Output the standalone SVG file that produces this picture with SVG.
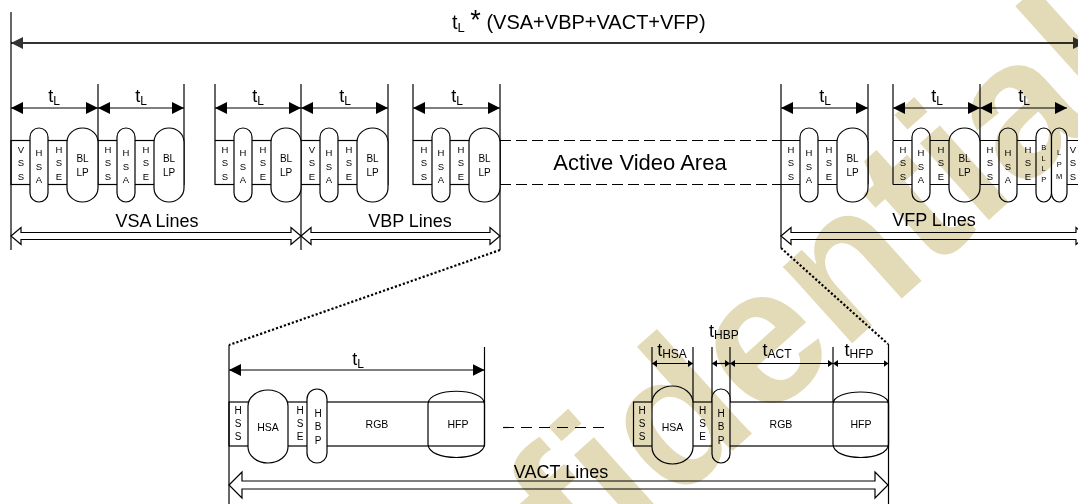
<svg xmlns="http://www.w3.org/2000/svg" width="1078" height="504" viewBox="0 0 1078 504">
<defs>
<style>
.ln{stroke:#000;stroke-width:1.2;fill:none}
.bx{stroke:#000;stroke-width:1.2;fill:none}
.pl{stroke:#000;stroke-width:1.2;fill:#fff}
.dash{stroke:#000;stroke-width:1.2;fill:none;stroke-dasharray:11,5}
.dot{stroke:#000;stroke-width:2.2;fill:none;stroke-dasharray:2.2,2}
.hol{stroke:#000;stroke-width:1.2;fill:#fff}
text{font-family:"Liberation Sans",Arial,sans-serif;fill:#000}
.c{font-size:9.5px;text-anchor:middle}
.c10{font-size:10px;text-anchor:middle}
.w{font-size:10.5px;text-anchor:middle}
.c7{font-size:7.5px;text-anchor:middle}
.tl{font-size:18px;text-anchor:middle}
.lab{font-size:18px;text-anchor:middle}
.wm{font-family:"Liberation Sans",Arial,sans-serif;font-weight:bold;font-size:195px;fill:#E3DAB8;text-anchor:end;mix-blend-mode:multiply}
</style>
<marker id="a" viewBox="0 0 12 12" markerWidth="12" markerHeight="12" refX="12" refY="6" markerUnits="userSpaceOnUse" orient="auto-start-reverse"><path d="M0,0 L12,6 L0,12 Z" fill="#000"/></marker>
<marker id="s" viewBox="0 0 5 7" markerWidth="5" markerHeight="7" refX="5" refY="3.5" markerUnits="userSpaceOnUse" orient="auto-start-reverse"><path d="M0,0 L5,3.5 L0,7 Z" fill="#000"/></marker>
<marker id="ag" viewBox="0 0 12 12" markerWidth="12" markerHeight="12" refX="12" refY="6" markerUnits="userSpaceOnUse" orient="auto-start-reverse"><path d="M0,0 L12,6 L0,12 Z" fill="#333"/></marker>
</defs>
<rect x="0" y="0" width="1078" height="504" fill="#fff"/>

<g id="title">
<text x="452" y="29" style="font-size:20px"><tspan>t</tspan><tspan style="font-size:13px" dy="3">L</tspan><tspan dy="-3"> </tspan><tspan style="font-size:27px">*</tspan><tspan> (VSA+VBP+VACT+VFP)</tspan></text>
</g>

<g id="connectors">
<line x1="11" y1="43" x2="1085" y2="43" stroke="#333" stroke-width="2" marker-start="url(#ag)" marker-end="url(#ag)"/>
<line class="ln" x1="11" y1="12" x2="11" y2="250"/>
<line class="ln" x1="301" y1="84" x2="301" y2="250"/>
<line class="ln" x1="500" y1="84" x2="500" y2="250"/>
<line class="ln" x1="781" y1="84" x2="781" y2="248"/>
<line class="ln" x1="98" y1="84" x2="98" y2="185"/>
<line class="ln" x1="184" y1="84" x2="184" y2="140"/>
<line class="ln" x1="215" y1="84" x2="215" y2="140"/>
<line class="ln" x1="388" y1="84" x2="388" y2="140"/>
<line class="ln" x1="413" y1="84" x2="413" y2="140"/>
<line class="ln" x1="868" y1="84" x2="868" y2="140"/>
<line class="ln" x1="893" y1="84" x2="893" y2="140"/>
<line class="ln" x1="980" y1="84" x2="980" y2="185"/>
<line class="ln" x1="11" y1="108" x2="98" y2="108" marker-start="url(#a)" marker-end="url(#a)"/>
<line class="ln" x1="98" y1="108" x2="184" y2="108" marker-start="url(#a)" marker-end="url(#a)"/>
<line class="ln" x1="215" y1="108" x2="301" y2="108" marker-start="url(#a)" marker-end="url(#a)"/>
<line class="ln" x1="301" y1="108" x2="388" y2="108" marker-start="url(#a)" marker-end="url(#a)"/>
<line class="ln" x1="413" y1="108" x2="500" y2="108" marker-start="url(#a)" marker-end="url(#a)"/>
<line class="ln" x1="781" y1="108" x2="868" y2="108" marker-start="url(#a)" marker-end="url(#a)"/>
<line class="ln" x1="893" y1="108" x2="980" y2="108" marker-start="url(#a)" marker-end="url(#a)"/>
<line class="ln" x1="980" y1="108" x2="1067" y2="108" marker-start="url(#a)" marker-end="url(#a)"/>
<line class="dash" x1="500" y1="140.5" x2="781" y2="140.5"/>
<line class="dash" x1="500" y1="184.5" x2="781" y2="184.5"/>
<path class="hol" d="M11,236 L21,227.5 L21,232.5 L291,232.5 L291,227.5 L301,236 L291,244.5 L291,239.5 L21,239.5 L21,244.5 Z"/>
<path class="hol" d="M301,236 L311,227.5 L311,232.5 L490,232.5 L490,227.5 L500,236 L490,244.5 L490,239.5 L311,239.5 L311,244.5 Z"/>
<path class="hol" d="M781,236 L791,227.5 L791,232.5 L1076,232.5 L1076,227.5 L1086,236 L1076,244.5 L1076,239.5 L791,239.5 L791,244.5 Z"/>
<path class="hol" d="M229,485 L242,472 L242,481 L875,481 L875,472 L888,485 L875,498 L875,489 L242,489 L242,498 Z"/>
<line class="dot" x1="500" y1="250" x2="229" y2="345"/>
<line class="dot" x1="781" y1="248" x2="888" y2="344"/>
<line class="ln" x1="229" y1="345" x2="229" y2="504"/>
<line class="ln" x1="484.5" y1="347" x2="484.5" y2="402"/>
<line class="ln" x1="888.5" y1="344" x2="888.5" y2="504"/>
<line class="ln" x1="652" y1="347" x2="652" y2="402"/>
<line class="ln" x1="693" y1="347" x2="693" y2="402"/>
<line class="ln" x1="712" y1="347" x2="712" y2="402"/>
<line class="ln" x1="730" y1="347" x2="730" y2="402"/>
<line class="ln" x1="833" y1="347" x2="833" y2="402"/>
<line class="ln" x1="229" y1="370" x2="484.5" y2="370" marker-start="url(#a)" marker-end="url(#a)"/>
<line class="ln" x1="652" y1="363.5" x2="693" y2="363.5" marker-start="url(#s)" marker-end="url(#s)"/>
<line class="ln" x1="712" y1="363.5" x2="730" y2="363.5" marker-start="url(#s)" marker-end="url(#s)"/>
<line class="ln" x1="730" y1="363.5" x2="833" y2="363.5" marker-start="url(#s)" marker-end="url(#s)"/>
<line class="ln" x1="833" y1="363.5" x2="888.5" y2="363.5" marker-start="url(#s)" marker-end="url(#s)"/>
<line class="ln" x1="503" y1="427.5" x2="608" y2="427.5" stroke-dasharray="11,7"/>
</g>

<g id="labels">
<text class="tl" x="54" y="102">t<tspan style="font-size:12px" dy="2.5">L</tspan></text>
<text class="tl" x="141" y="102">t<tspan style="font-size:12px" dy="2.5">L</tspan></text>
<text class="tl" x="258" y="102">t<tspan style="font-size:12px" dy="2.5">L</tspan></text>
<text class="tl" x="345" y="102">t<tspan style="font-size:12px" dy="2.5">L</tspan></text>
<text class="tl" x="457" y="102">t<tspan style="font-size:12px" dy="2.5">L</tspan></text>
<text class="tl" x="825" y="102">t<tspan style="font-size:12px" dy="2.5">L</tspan></text>
<text class="tl" x="937" y="102">t<tspan style="font-size:12px" dy="2.5">L</tspan></text>
<text class="tl" x="1024" y="102">t<tspan style="font-size:12px" dy="2.5">L</tspan></text>
<text class="tl" x="358" y="365">t<tspan style="font-size:12px" dy="2.5">L</tspan></text>
<text class="tl" x="672" y="356">t<tspan style="font-size:12px" dy="1.5">HSA</tspan></text>
<text x="709" y="337" style="font-size:18px">t<tspan style="font-size:12px" dy="1.5">HBP</tspan></text>
<text class="tl" x="777" y="356">t<tspan style="font-size:12px" dy="1.5">ACT</tspan></text>
<text class="tl" x="859" y="356">t<tspan style="font-size:12px" dy="1.5">HFP</tspan></text>
<text class="lab" x="157" y="227">VSA Lines</text>
<text class="lab" x="410" y="227">VBP Lines</text>
<text class="lab" x="934" y="226">VFP LInes</text>
<text class="lab" x="561" y="478">VACT Lines</text>
<text x="640" y="169.5" style="font-size:22px;text-anchor:middle">Active Video Area</text>
</g>

<g id="vsa-lines">
<rect class="bx" x="11" y="140.5" width="173" height="44"/>
<rect class="pl" x="30" y="128" width="18" height="74" rx="9" ry="9"/>
<rect class="pl" x="67" y="128" width="31" height="74" rx="15.5" ry="14"/>
<rect class="pl" x="117" y="128" width="18" height="74" rx="9" ry="9"/>
<rect class="pl" x="154" y="128" width="30" height="74" rx="15" ry="14"/>
<text class="c" x="21" y="152.5">V<tspan x="21" y="166">S</tspan><tspan x="21" y="179.5">S</tspan></text>
<text class="c" x="39" y="156">H<tspan x="39" y="169.5">S</tspan><tspan x="39" y="183">A</tspan></text>
<text class="c" x="59" y="152.5">H<tspan x="59" y="166">S</tspan><tspan x="59" y="179.5">E</tspan></text>
<text class="c10" x="82.5" y="161.5">BL<tspan x="82.5" y="175.5">LP</tspan></text>
<text class="c" x="108" y="152.5">H<tspan x="108" y="166">S</tspan><tspan x="108" y="179.5">S</tspan></text>
<text class="c" x="126" y="156">H<tspan x="126" y="169.5">S</tspan><tspan x="126" y="183">A</tspan></text>
<text class="c" x="146" y="152.5">H<tspan x="146" y="166">S</tspan><tspan x="146" y="179.5">E</tspan></text>
<text class="c10" x="169" y="161.5">BL<tspan x="169" y="175.5">LP</tspan></text>
</g>

<g id="vbp-lines">
<rect class="bx" x="215" y="140.5" width="173" height="44"/>
<rect class="pl" x="234" y="128" width="18" height="74" rx="9" ry="9"/>
<rect class="pl" x="271" y="128" width="30" height="74" rx="15" ry="14"/>
<rect class="pl" x="320" y="128" width="18" height="74" rx="9" ry="9"/>
<rect class="pl" x="357" y="128" width="31" height="74" rx="15.5" ry="14"/>
<text class="c" x="225" y="152.5">H<tspan x="225" y="166">S</tspan><tspan x="225" y="179.5">S</tspan></text>
<text class="c" x="243" y="156">H<tspan x="243" y="169.5">S</tspan><tspan x="243" y="183">A</tspan></text>
<text class="c" x="263" y="152.5">H<tspan x="263" y="166">S</tspan><tspan x="263" y="179.5">E</tspan></text>
<text class="c10" x="286" y="161.5">BL<tspan x="286" y="175.5">LP</tspan></text>
<text class="c" x="312" y="152.5">V<tspan x="312" y="166">S</tspan><tspan x="312" y="179.5">E</tspan></text>
<text class="c" x="329" y="156">H<tspan x="329" y="169.5">S</tspan><tspan x="329" y="183">A</tspan></text>
<text class="c" x="349" y="152.5">H<tspan x="349" y="166">S</tspan><tspan x="349" y="179.5">E</tspan></text>
<text class="c10" x="372.5" y="161.5">BL<tspan x="372.5" y="175.5">LP</tspan></text>
</g>

<g id="vbp-last-line">
<rect class="bx" x="413" y="140.5" width="87" height="44"/>
<rect class="pl" x="432" y="128" width="18" height="74" rx="9" ry="9"/>
<rect class="pl" x="469" y="128" width="31" height="74" rx="15.5" ry="14"/>
<text class="c" x="424" y="152.5">H<tspan x="424" y="166">S</tspan><tspan x="424" y="179.5">S</tspan></text>
<text class="c" x="441" y="156">H<tspan x="441" y="169.5">S</tspan><tspan x="441" y="183">A</tspan></text>
<text class="c" x="461" y="152.5">H<tspan x="461" y="166">S</tspan><tspan x="461" y="179.5">E</tspan></text>
<text class="c10" x="484.5" y="161.5">BL<tspan x="484.5" y="175.5">LP</tspan></text>
</g>

<g id="vfp-first-line">
<line class="ln" x1="772" y1="140.5" x2="868" y2="140.5"/>
<line class="ln" x1="772" y1="184.5" x2="868" y2="184.5"/>
<line class="ln" x1="868" y1="140.5" x2="868" y2="184.5"/>
<rect class="pl" x="800" y="128" width="18" height="74" rx="9" ry="9"/>
<rect class="pl" x="837" y="128" width="31" height="74" rx="15.5" ry="14"/>
<text class="c" x="791" y="152.5">H<tspan x="791" y="166">S</tspan><tspan x="791" y="179.5">S</tspan></text>
<text class="c" x="809" y="156">H<tspan x="809" y="169.5">S</tspan><tspan x="809" y="183">A</tspan></text>
<text class="c" x="829" y="152.5">H<tspan x="829" y="166">S</tspan><tspan x="829" y="179.5">E</tspan></text>
<text class="c10" x="852.5" y="161.5">BL<tspan x="852.5" y="175.5">LP</tspan></text>
</g>

<g id="vfp-last-lines">
<line class="ln" x1="893" y1="140.5" x2="1080" y2="140.5"/>
<line class="ln" x1="893" y1="184.5" x2="1080" y2="184.5"/>
<line class="ln" x1="893" y1="140.5" x2="893" y2="184.5"/>
<rect class="pl" x="912" y="128" width="18" height="74" rx="9" ry="9"/>
<rect class="pl" x="949" y="128" width="31" height="74" rx="15.5" ry="14"/>
<rect class="pl" x="999" y="128" width="18" height="74" rx="9" ry="9"/>
<rect class="pl" x="1036" y="128" width="15.5" height="74" rx="7.7" ry="9"/>
<rect class="pl" x="1051.5" y="128" width="15.5" height="74" rx="7.7" ry="9"/>
<text class="c" x="903" y="152.5">H<tspan x="903" y="166">S</tspan><tspan x="903" y="179.5">S</tspan></text>
<text class="c" x="921" y="156">H<tspan x="921" y="169.5">S</tspan><tspan x="921" y="183">A</tspan></text>
<text class="c" x="941" y="152.5">H<tspan x="941" y="166">S</tspan><tspan x="941" y="179.5">E</tspan></text>
<text class="c10" x="964.5" y="161.5">BL<tspan x="964.5" y="175.5">LP</tspan></text>
<text class="c" x="990" y="152.5">H<tspan x="990" y="166">S</tspan><tspan x="990" y="179.5">S</tspan></text>
<text class="c" x="1008" y="156">H<tspan x="1008" y="169.5">S</tspan><tspan x="1008" y="183">A</tspan></text>
<text class="c" x="1028" y="152.5">H<tspan x="1028" y="166">S</tspan><tspan x="1028" y="179.5">E</tspan></text>
<text class="c7" x="1043.7" y="150">B<tspan x="1043.7" y="160.5">L</tspan><tspan x="1043.7" y="171">L</tspan><tspan x="1043.7" y="182">P</tspan></text>
<text class="c7" x="1059.2" y="155">L<tspan x="1059.2" y="166.5">P</tspan><tspan x="1059.2" y="179">M</tspan></text>
<text class="c" x="1073" y="152.5">V<tspan x="1073" y="166">S</tspan><tspan x="1073" y="179.5">S</tspan></text>
</g>

<g id="line-detail-left">
<rect class="bx" x="229" y="402" width="255.5" height="44"/>
<rect class="pl" x="248" y="390" width="40" height="73" rx="20" ry="16"/>
<rect class="pl" x="307" y="389" width="20" height="74" rx="10" ry="10"/>
<path class="bx" d="M428,404 C428,387 484.5,387 484.5,404 L484.5,444 C484.5,462 428,462 428,444 Z"/>
<text class="c10" x="238" y="413.5">H<tspan x="238" y="426.8">S</tspan><tspan x="238" y="440">S</tspan></text>
<text class="w" x="268" y="430.5">HSA</text>
<text class="c10" x="300" y="413.5">H<tspan x="300" y="426.8">S</tspan><tspan x="300" y="440">E</tspan></text>
<text class="c10" x="318" y="416.7">H<tspan x="318" y="430">B</tspan><tspan x="318" y="444">P</tspan></text>
<text class="w" x="377" y="428.3">RGB</text>
<text class="w" x="458" y="428.3">HFP</text>
</g>

<g id="line-detail-right">
<rect class="bx" x="633.5" y="402" width="255" height="44"/>
<rect class="pl" x="652" y="386" width="41" height="78" rx="20.5" ry="17"/>
<rect class="pl" x="712" y="389" width="18" height="74" rx="9" ry="9"/>
<path class="bx" d="M833,404 C833,388 888.5,388 888.5,404 L888.5,444 C888.5,462 833,462 833,444 Z"/>
<text class="c10" x="642" y="413.5">H<tspan x="642" y="426.8">S</tspan><tspan x="642" y="440">S</tspan></text>
<text class="w" x="672.5" y="430.5">HSA</text>
<text class="c10" x="702.5" y="413.5">H<tspan x="702.5" y="426.8">S</tspan><tspan x="702.5" y="440">E</tspan></text>
<text class="c10" x="721" y="416.7">H<tspan x="721" y="430">B</tspan><tspan x="721" y="444">P</tspan></text>
<text class="w" x="781" y="428.3">RGB</text>
<text class="w" x="861" y="428.3">HFP</text>
</g>

<g id="watermark">
<text class="wm" transform="translate(1140,84) rotate(-42)">Confidential</text>
</g>
</svg>
